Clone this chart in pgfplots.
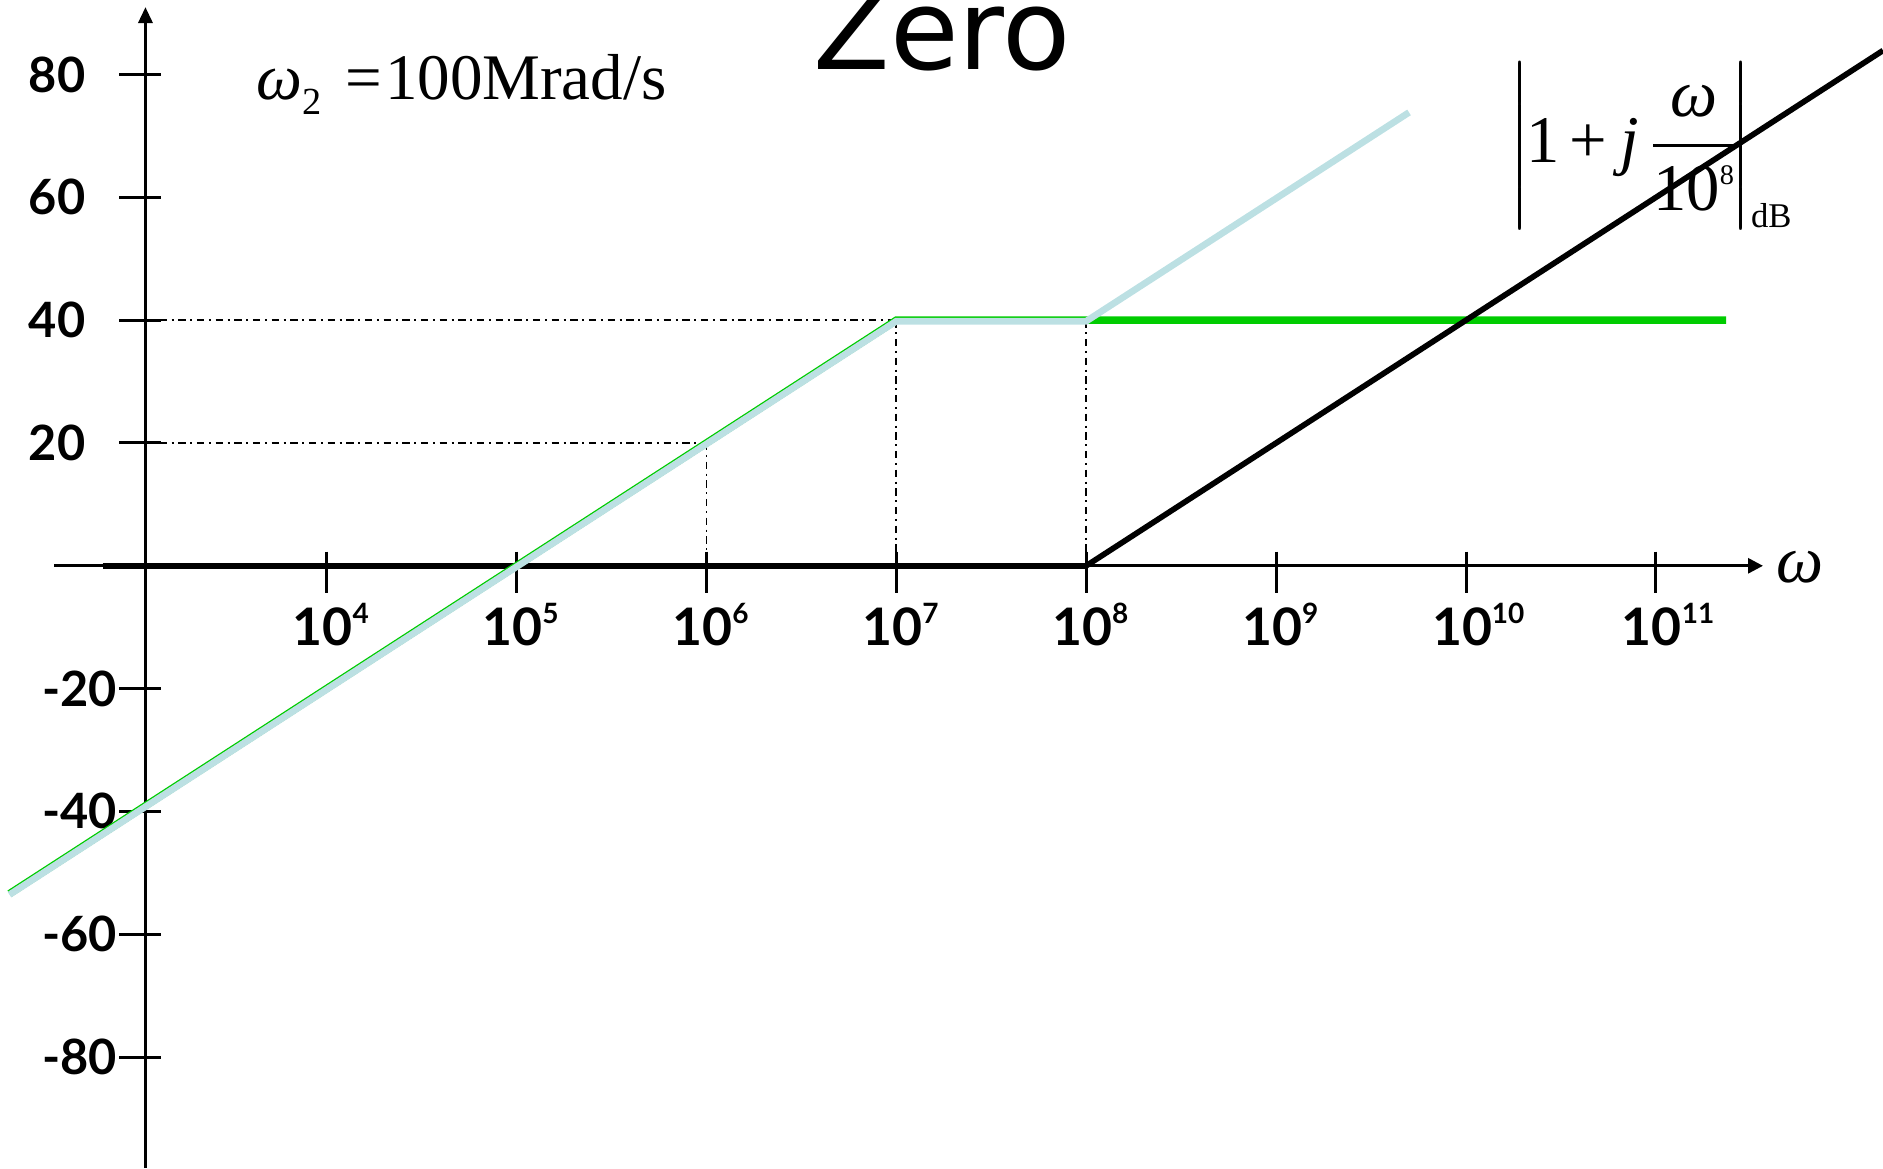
\documentclass[border=0pt]{standalone}
\usepackage{amsmath}
\usepackage{fontspec}
\usepackage{pgfplots}
\usepackage{pgfplotstable}
\pgfplotsset{compat=1.18}
\usetikzlibrary{arrows.meta}

\setmainfont{Liberation Serif}
\newfontfamily\tickfont{Lato}
\newfontfamily\titlefont{DejaVu Sans}

\definecolor{asymgreen}{HTML}{00CC00}
\definecolor{bodecyan}{HTML}{BCE0E3}

% tick label helpers
\newcommand{\ylab}[1]{{\tickfont\bfseries\fontsize{14.6}{16}\selectfont #1}}
\newcommand{\xsup}[1]{\raisebox{6.6pt}{\fontsize{8.4}{9}\selectfont #1}}
\newcommand{\xlab}[1]{{\tickfont\bfseries\fontsize{15.5}{17}\selectfont\hphantom{\xsup{#1}}10\xsup{#1}}}

% x = log10(omega), y = magnitude in dB
\pgfplotstableread{
x      y
2.33   -53.4
7      40
11.37  40
}\greenasym
\pgfplotstableread{
x      y
2.33   -53.4
7      40
8      40
9.7    74
}\totalasym
\pgfplotstableread{
x      y
2.82   0
8      0
}\zeroflat
\pgfplotstableread{
x       y
8       0
12.196  83.92
}\zerorise

\begin{document}
\begin{tikzpicture}
\begin{axis}[
  scale only axis,
  width=564.9pt, height=350.4pt,
  xmin=2.280, xmax=12.196,
  ymin=-98.08, ymax=92.15,
  axis lines=none,
  xtick=\empty, ytick=\empty,
  clip=false,
]
% guide lines
\addplot[black, line width=0.5pt, dash pattern=on 2.2pt off 1.4pt on 0.6pt off 1.4pt]
  coordinates {(3.12,40) (7,40)};
\addplot[black, line width=0.5pt, dash pattern=on 2.2pt off 1.4pt on 0.6pt off 1.4pt]
  coordinates {(3.12,20) (6,20)};
\addplot[black, line width=0.5pt, dash pattern=on 2.2pt off 1.4pt on 0.6pt off 1.4pt]
  coordinates {(6,20) (6,0)};
\addplot[black, line width=0.5pt, dash pattern=on 2.2pt off 1.4pt on 0.6pt off 1.4pt]
  coordinates {(7,40) (7,0)};
\addplot[black, line width=0.5pt, dash pattern=on 2.2pt off 1.4pt on 0.6pt off 1.4pt]
  coordinates {(8,40) (8,0)};

% axes
\draw[line width=1pt, -{Triangle[length=4.8pt,width=4.2pt]}]
  (axis cs:3.046,-98.08) -- (axis cs:3.046,91.0);
\draw[line width=0.9pt, -{Triangle[length=4.5pt,width=4.5pt]}]
  (axis cs:2.565,0) -- (axis cs:11.564,0);

\pgfplotsinvokeforeach{80,60,40,20,-20,-40,-60,-80}{
  \draw[line width=0.9pt] (axis cs:2.907,#1) -- (axis cs:3.128,#1);
}
\pgfplotsinvokeforeach{80,60,40,20}{
  \node[anchor=east, inner sep=0] at (axis cs:2.733,#1) {\ylab{#1}};
  \node[anchor=east, inner sep=0] at (axis cs:2.898,-#1) {\ylab{-#1}};
}
\pgfplotsinvokeforeach{4,...,11}{
  \draw[line width=0.9pt] (axis cs:#1,2.3) -- (axis cs:#1,-4.5);
  \node[anchor=base, inner sep=0, xshift=-1.2pt] at (axis cs:#1,-12.9) {\xlab{#1}};
}

% asymptotes
\addplot[black, line width=1.8pt] table {\zeroflat};
\addplot[asymgreen, line width=2.25pt] table {\greenasym};
\addplot[bodecyan, line width=2pt, yshift=-0.3pt] table {\totalasym};
\addplot[black, line width=1.7pt] table {\zerorise};

% labels
\node[anchor=center, inner sep=0] at (axis cs:11.759,-0.2)
  {\fontsize{20}{24}\selectfont\textit{ω}};
\node[anchor=base west, inner sep=0] at (axis cs:6.561,80.75)
  {\titlefont\fontsize{33.5}{36}\selectfont Zero};
\node[anchor=base west, inner sep=0] at (axis cs:3.628,75.9)
  {\fontsize{19.5}{22}\selectfont\textit{ω}\raisebox{-4.5pt}{\fontsize{11.5}{12}\selectfont 2}\hspace{7pt}=\hspace{1pt}100Mrad/s};
\node[anchor=base west, inner sep=0] at (axis cs:10.22,65.6)
  {\fontsize{20}{24}\selectfont
   $\delimiterfactor=1000 \delimitershortfall=0pt
    \left|\rule[-18pt]{0pt}{46pt}\hspace{-1.5pt}\text{1\hspace{3pt}+\hspace{4pt}\textit{j}\hspace{3pt}}\dfrac{\textit{ω}}{\text{10\raisebox{7.8pt}{\fontsize{8.5}{9}\selectfont 8}}}\hspace{-2.5pt}\right|\hspace{-4pt}\raisebox{-19.5pt}{\fontsize{10.4}{11}\selectfont dB}$};
\end{axis}
\pgfresetboundingbox
\path[use as bounding box] (current axis.south west) rectangle (current axis.north east);
\end{tikzpicture}
\end{document}
